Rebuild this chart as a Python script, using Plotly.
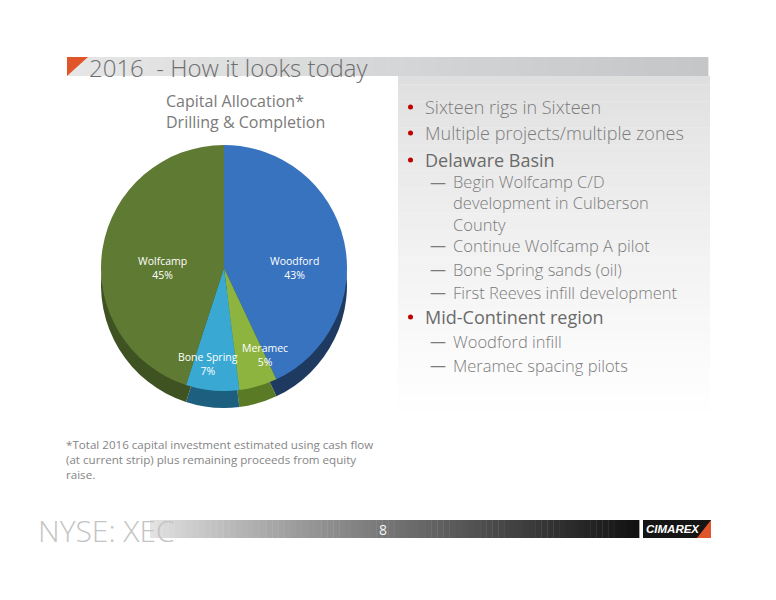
import plotly.graph_objects as go
import math

# ---------------- data ----------------
segments = ["Woodford", "Meramec", "Bone Spring", "Wolfcamp"]
shares = [43, 5, 7, 45]

slide_title = "2016 \u00a0- How it looks today"
chart_title = ["Capital Allocation*", "Drilling & Completion"]
bullets = [
    ("main", "Sixteen rigs in Sixteen"),
    ("main", "Multiple projects/multiple zones"),
    ("head", "Delaware Basin"),
    ("sub", "Begin Wolfcamp C/D<br>development in Culberson<br>County"),
    ("sub", "Continue Wolfcamp A pilot"),
    ("sub", "Bone Spring sands (oil)"),
    ("sub", "First Reeves infill development"),
    ("head", "Mid-Continent region"),
    ("sub", "Woodford infill"),
    ("sub", "Meramec spacing pilots"),
]
footnote = ["*Total 2016 capital investment estimated using cash flow",
            "(at current strip) plus remaining proceeds from equity",
            "raise."]
footer_left = "NYSE: XEC"
page_no = "8"
logo_text = "CIMAREX"

# ---------------- styles ----------------
# the page body has an 8px margin; the figure is sized to fit inside the window
OFF = 8
W, H = 776 - OFF, 600 - OFF
top_colors = ["#3873BF", "#8DB43F", "#39A9D3", "#5F7A33"]
rim_colors = ["#1E3A60", "#5B7A26", "#1D5F7E", "#3F5322"]

def px(x):
    return (x - OFF) / W

def py(y):
    return 1 - (y - OFF) / H

def hexmix(c1, c2, t):
    a = [int(c1[i:i + 2], 16) for i in (1, 3, 5)]
    b = [int(c2[i:i + 2], 16) for i in (1, 3, 5)]
    return "#%02x%02x%02x" % tuple(round(a[k] + (b[k] - a[k]) * t) for k in range(3))

shapes = []
annotations = []

# right panel vertical gradient
n = 40
for i in range(n):
    y0 = 76 + (420 - 76) * i / n
    y1 = 76 + (420 - 76) * (i + 1) / n
    t = (i / (n - 1)) ** 0.8
    shapes.append(dict(type="rect", xref="paper", yref="paper",
                       x0=px(398), x1=px(710), y0=py(y1), y1=py(y0) + 0.0005,
                       fillcolor=hexmix("#dfdfdf", "#ffffff", t), line=dict(width=0), layer="below"))

# title band horizontal gradient
n = 40
for i in range(n):
    x0 = 67 + (708 - 67) * i / n
    x1 = 67 + (708 - 67) * (i + 1) / n
    shapes.append(dict(type="rect", xref="paper", yref="paper",
                       x0=px(x0), x1=px(x1) + 0.0005, y0=py(76), y1=py(57),
                       fillcolor=hexmix("#e6e6e6", "#c4c6c8", i / (n - 1)), line=dict(width=0), layer="below"))
# orange triangle
shapes.append(dict(type="path", xref="paper", yref="paper",
                   path=f"M {px(67)} {py(57)} L {px(88)} {py(57)} L {px(67)} {py(76)} Z",
                   fillcolor="#E0562A", line=dict(width=0)))

# footer gradient bar
n = 80
for i in range(n):
    x0 = 150 + (639 - 150) * i / n
    x1 = 150 + (639 - 150) * (i + 1) / n
    t = i / (n - 1)
    shapes.append(dict(type="rect", xref="paper", yref="paper",
                       x0=px(x0), x1=px(x1) + 0.0005, y0=py(538), y1=py(520),
                       fillcolor=hexmix("#e2e2e2", "#121212", t ** 0.9), line=dict(width=0), layer="below"))
# logo box
shapes.append(dict(type="rect", xref="paper", yref="paper",
                   x0=px(643), x1=px(711), y0=py(538), y1=py(520),
                   fillcolor="#151515", line=dict(width=0)))
shapes.append(dict(type="path", xref="paper", yref="paper",
                   path=f"M {px(697)} {py(538)} L {px(711)} {py(520)} L {px(711)} {py(538)} Z",
                   fillcolor="#E0562A", line=dict(width=0)))

fig = go.Figure()

# pie geometry
cx, cy, R, depth = 224, 268, 123, 17
dom_x = [px(cx - R), px(cx + R)]
fig.add_trace(go.Pie(labels=segments, values=shares, sort=False, direction="clockwise",
                     rotation=0, textinfo="none", hoverinfo="skip", showlegend=False,
                     marker=dict(colors=rim_colors, line=dict(width=0)),
                     domain=dict(x=dom_x, y=[py(cy + depth + R), py(cy + depth - R)])))
fig.add_trace(go.Pie(labels=segments, values=shares, sort=False, direction="clockwise",
                     rotation=0, textinfo="none", hoverinfo="label+percent", showlegend=False,
                     marker=dict(colors=top_colors, line=dict(width=0)),
                     domain=dict(x=dom_x, y=[py(cy + R), py(cy - R)])))

# slice labels placed near each slice's mid-angle (angle nudge in degrees, radius fraction)
label_nudge = [13.0, -9.0, 4.0, -9.0]
label_r = [0.57, 0.78, 0.79, 0.50]
total = sum(shares)
acc = 0
for name, v, f, dn in zip(segments, shares, label_r, label_nudge):
    mid = (acc + v / 2) / total * 2 * math.pi + math.radians(dn)
    acc += v
    lx = cx + f * R * math.sin(mid)
    ly = cy - f * R * math.cos(mid)
    annotations.append(dict(x=px(lx), y=py(ly), xref="paper", yref="paper",
                            xanchor="center", yanchor="middle",
                            text=f"{name}<br>{round(v / total * 100)}%", showarrow=False,
                            font=dict(family="Open Sans", size=10.5, color="white")))

# slide title
annotations.append(dict(x=px(87), y=py(68), xref="paper", yref="paper", xanchor="left", yanchor="middle",
                        text=slide_title, showarrow=False,
                        font=dict(family="Open Sans", size=24, color="#6f6f6f", weight=300)))
# chart title
annotations.append(dict(x=px(164), y=py(111), xref="paper", yref="paper", xanchor="left", yanchor="middle",
                        text="<br>".join(chart_title), showarrow=False, align="left",
                        font=dict(family="Open Sans", size=16, color="#7a7a7a")))

# bullets
ys = [107, 133, 160, 203, 245, 269, 292, 317, 341, 365]
for (kind, txt), y in zip(bullets, ys):
    if kind in ("main", "head"):
        shapes.append(dict(type="circle", xref="paper", yref="paper",
                           x0=px(408), x1=px(413), y0=py(y + 2.5), y1=py(y - 2.5),
                           fillcolor="#C00000", line=dict(width=0)))
        annotations.append(dict(x=px(423), y=py(y), xref="paper", yref="paper", xanchor="left",
                                yanchor="middle", text=txt, showarrow=False,
                                font=dict(family="Open Sans", size=18,
                                          color="#6a6a6a" if kind == "head" else "#7b7b7b",
                                          weight=500 if kind == "head" else 300)))
    else:
        first_y = y - txt.count("<br>") * 20.5 / 2
        annotations.append(dict(x=px(428), y=py(first_y), xref="paper", yref="paper", xanchor="left",
                                yanchor="middle", text="\u2014", showarrow=False,
                                font=dict(family="Open Sans", size=16, color="#7b7b7b")))
        annotations.append(dict(x=px(451), y=py(y), xref="paper", yref="paper", xanchor="left",
                                yanchor="middle", text=txt, showarrow=False, align="left",
                                font=dict(family="Open Sans", size=16.5, color="#7b7b7b", weight=300)))

# footnote
annotations.append(dict(x=px(64), y=py(459.5), xref="paper", yref="paper",
                        xanchor="left", yanchor="middle", text="<br>".join(footnote), showarrow=False,
                        align="left", font=dict(family="Open Sans", size=11.6, color="#858585")))

# footer
annotations.append(dict(x=px(36), y=py(530), xref="paper", yref="paper", xanchor="left", yanchor="middle",
                        text=footer_left, showarrow=False,
                        font=dict(family="Open Sans", size=30, color="#c4c4c4", weight=300)))
annotations.append(dict(x=px(383), y=py(529), xref="paper", yref="paper", xanchor="center", yanchor="middle",
                        text=page_no, showarrow=False,
                        font=dict(family="Open Sans", size=14, color="#f4f4f4")))
annotations.append(dict(x=px(673), y=py(529), xref="paper", yref="paper", xanchor="center", yanchor="middle",
                        text=f"<b><i>{logo_text}</i></b>", showarrow=False,
                        font=dict(family="Liberation Sans", size=11.5, color="white")))

fig.update_layout(width=W, height=H, margin=dict(l=0, r=0, t=0, b=0),
                  paper_bgcolor="white", plot_bgcolor="white",
                  shapes=shapes, annotations=annotations)
fig.write_html("out.html")
